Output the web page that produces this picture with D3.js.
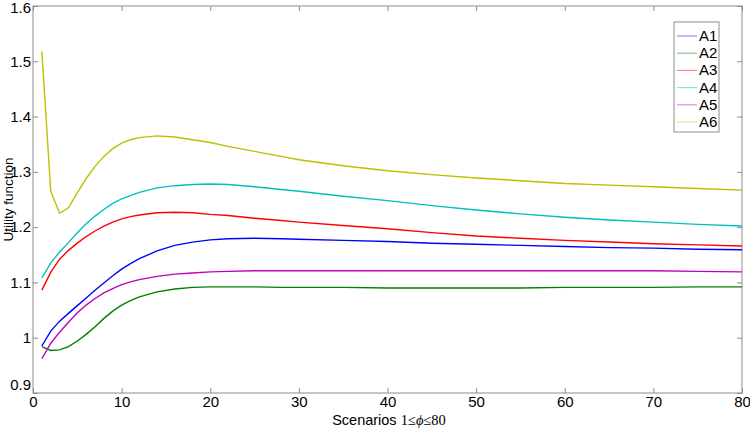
<!DOCTYPE html>
<html><head><meta charset="utf-8">
<script src="https://cdn.jsdelivr.net/npm/d3@7"></script>
<style>body{margin:0;background:#fff}svg{display:block}text{font-family:"Liberation Sans",Arial,sans-serif}</style>
</head><body><svg id="c" width="750" height="428"></svg>
<script>
const xs = [1,2,3,4,5,6,7,8,9,10,11,12,14,16,18,20,22,25,28,30,35,40,45,50,55,60,65,70,75,80];
const A1 = [0.985,1.012,1.030,1.044,1.058,1.072,1.086,1.099,1.112,1.124,1.134,1.143,1.157,1.167,1.173,1.177,1.179,1.180,1.179,1.178,1.176,1.174,1.171,1.169,1.167,1.165,1.163,1.162,1.160,1.159];
const A2 = [0.984,0.977,0.978,0.984,0.994,1.006,1.020,1.035,1.048,1.059,1.067,1.074,1.083,1.088,1.091,1.092,1.092,1.092,1.091,1.091,1.091,1.090,1.090,1.090,1.090,1.091,1.091,1.091,1.092,1.092];
const A3 = [1.086,1.118,1.142,1.158,1.171,1.183,1.193,1.202,1.209,1.215,1.219,1.222,1.226,1.227,1.226,1.223,1.221,1.216,1.212,1.209,1.203,1.197,1.190,1.184,1.180,1.176,1.173,1.170,1.168,1.166];
const A4 = [1.108,1.135,1.155,1.172,1.190,1.206,1.220,1.232,1.243,1.251,1.257,1.263,1.271,1.275,1.277,1.278,1.277,1.273,1.268,1.265,1.256,1.248,1.239,1.231,1.224,1.218,1.213,1.209,1.205,1.202];
const A5 = [0.962,0.990,1.010,1.028,1.045,1.059,1.071,1.081,1.089,1.096,1.101,1.105,1.111,1.115,1.117,1.119,1.120,1.121,1.121,1.121,1.121,1.121,1.121,1.121,1.121,1.121,1.121,1.121,1.120,1.119];
const A6 = [1.518,1.265,1.225,1.235,1.262,1.288,1.310,1.328,1.342,1.352,1.358,1.362,1.365,1.363,1.358,1.353,1.346,1.337,1.328,1.322,1.311,1.302,1.295,1.289,1.284,1.279,1.276,1.273,1.270,1.267];
const seriesNames = ["A1","A2","A3","A4","A5","A6"];
const colors = ["#0000ff","#008000","#ff0000","#00bfbf","#bf00bf","#bfbf00"];
const xTicks = [0,10,20,30,40,50,60,70,80];
const yTicks = [0.9,1,1.1,1.2,1.3,1.4,1.5,1.6];

const series = [A1,A2,A3,A4,A5,A6];
const svg = d3.select("#c");
const L=33, R=742, T=6, B=393;
const x = d3.scaleLinear().domain([0,80]).range([L,R]);
const y = d3.scaleLinear().domain([0.9,1.6]).range([B,T]);
const axCol="#8c8c8c";

svg.append("rect").attr("x",L).attr("y",T).attr("width",R-L).attr("height",B-T)
  .attr("fill","none").attr("stroke",axCol).attr("stroke-width",1);

const fmtY = d=> d===1 ? "1" : d3.format(".1f")(d);
const gxb = svg.append("g").attr("transform",`translate(0,${B})`)
  .call(d3.axisBottom(x).tickValues(xTicks).tickSizeInner(-5).tickSizeOuter(0).tickPadding(3));
const gxt = svg.append("g").attr("transform",`translate(0,${T})`)
  .call(d3.axisTop(x).tickValues(xTicks).tickSizeInner(-5).tickSizeOuter(0).tickFormat(""));
const gyl = svg.append("g").attr("transform",`translate(${L},0)`)
  .call(d3.axisLeft(y).tickValues(yTicks).tickSizeInner(-5).tickSizeOuter(0).tickPadding(2).tickFormat(fmtY));
const gyr = svg.append("g").attr("transform",`translate(${R},0)`)
  .call(d3.axisRight(y).tickValues(yTicks).tickSizeInner(-5).tickSizeOuter(0).tickFormat(""));
[gxb,gxt,gyl,gyr].forEach(g=>{
  g.select(".domain").remove();
  g.selectAll("line").attr("stroke",axCol);
  g.selectAll("text").attr("fill","#000").style("font-size","15px").style("font-family","Liberation Sans, Arial, sans-serif");
});
gyl.selectAll(".tick text").filter(d=>d===0.9).attr("dy","-0.25em");
gyl.selectAll(".tick text").filter(d=>d===1.6).attr("dy","0.4em");

const line = d3.line().x((d,i)=>x(xs[i])).y(d=>y(d));
series.forEach((s,i)=>{
  svg.append("path").datum(s).attr("d",line).attr("fill","none")
    .attr("stroke",colors[i]).attr("stroke-width",1.4);
});

svg.append("text").attr("x",389).attr("y",425).attr("text-anchor","middle")
  .style("font-size","14.5px").html('Scenarios <tspan style="font-family:\'Liberation Serif\',serif">1≤<tspan font-style="italic">ϕ</tspan>≤80</tspan>');
svg.append("text").attr("transform",`translate(12.5,${(T+B)/2}) rotate(-90)`).attr("text-anchor","middle")
  .style("font-size","13.5px").text("Utility function");

const lg = svg.append("g");
lg.append("rect").attr("x",674).attr("y",22).attr("width",45).attr("height",110)
  .attr("fill","#fff").attr("stroke",axCol).attr("stroke-width",1);
seriesNames.forEach((n,i)=>{
  const yy = 36 + i*17.2;
  lg.append("line").attr("x1",677).attr("x2",697).attr("y1",yy).attr("y2",yy)
    .attr("stroke",colors[i]).attr("stroke-opacity",0.45).attr("stroke-width",1.2);
  lg.append("text").attr("x",699).attr("y",yy+5).style("font-size","15px").text(n);
});
</script></body></html>
